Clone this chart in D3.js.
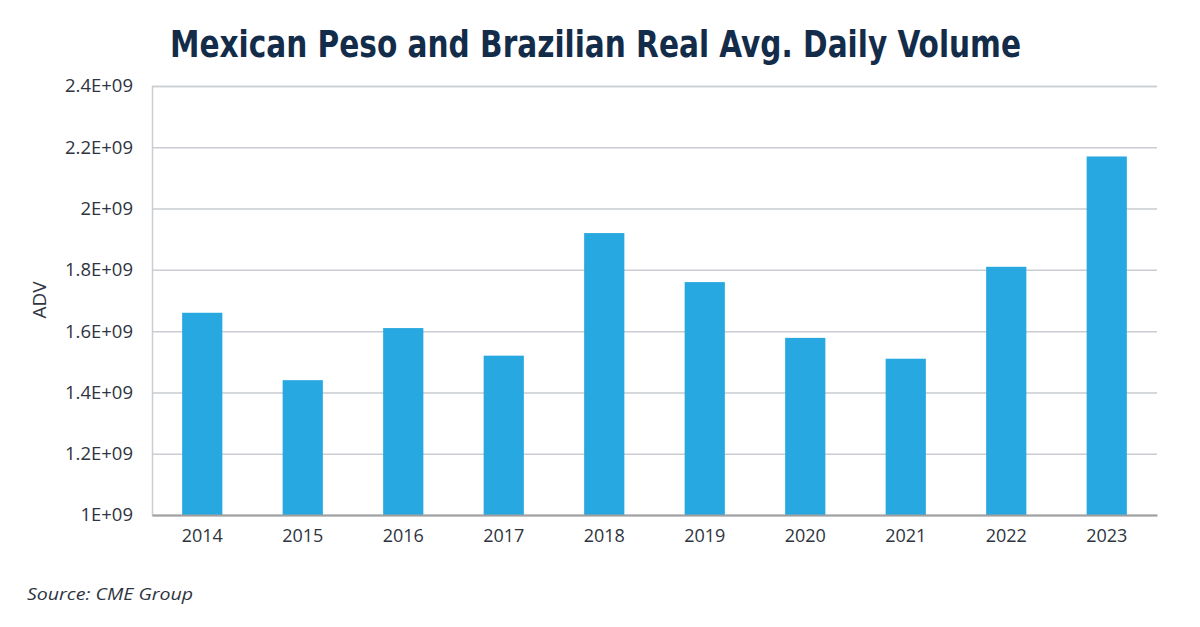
<!DOCTYPE html>
<html><head><meta charset="utf-8">
<script src="https://cdn.jsdelivr.net/npm/d3@7"></script>
<style>body{margin:0;background:#fff}svg{display:block}</style>
</head><body><svg id="c" width="1200" height="627"></svg>
<script>
const categories = ["2014","2015","2016","2017","2018","2019","2020","2021","2022","2023"];
const values = [1.66e9,1.44e9,1.61e9,1.52e9,1.92e9,1.76e9,1.578e9,1.51e9,1.81e9,2.17e9];
const yTicks = [1e9,1.2e9,1.4e9,1.6e9,1.8e9,2e9,2.2e9,2.4e9];
const yTickLabels = ["1E+09","1.2E+09","1.4E+09","1.6E+09","1.8E+09","2E+09","2.2E+09","2.4E+09"];

const svg = d3.select("#c");
const L=152,R=1157,T=86,B=515;
const x = d3.scaleBand().domain(categories).range([L,R]).paddingInner(0.6).paddingOuter(0.3);
const y = d3.scaleLinear().domain([1e9,2.4e9]).range([B,T]);
const txt = "#2e3440";

svg.append("text").attr("x",170).attr("y",57).attr("textLength",851).attr("lengthAdjust","spacingAndGlyphs")
  .attr("font-family","DejaVu Sans Condensed, DejaVu Sans").attr("font-weight","bold").attr("font-size",38)
  .attr("fill","#132c4a").text("Mexican Peso and Brazilian Real Avg. Daily Volume");

const ya = svg.append("g").attr("transform",`translate(${L},0)`)
  .call(d3.axisLeft(y).tickValues(yTicks).tickSize(-(R-L)).tickPadding(19).tickFormat((d,i)=>yTickLabels[i]));
ya.select(".domain").attr("stroke","#c9cdd1").attr("stroke-width",1.5);
ya.selectAll(".tick line").attr("stroke","#c9cdd1").attr("stroke-width",1.5);
ya.selectAll(".tick text").attr("font-family","Open Sans").attr("font-size",18.5).attr("fill",txt);

svg.append("g").selectAll("rect").data(values).join("rect")
  .attr("x",(d,i)=>x(categories[i])).attr("width",x.bandwidth())
  .attr("y",d=>y(d)).attr("height",d=>B-y(d)).attr("fill","#27a8e0");

const xa = svg.append("g").attr("transform",`translate(0,${B})`)
  .call(d3.axisBottom(x).tickSize(0).tickPadding(14));
xa.select(".domain").attr("stroke","#a0a0a0").attr("stroke-width",2);
xa.selectAll(".tick text").attr("font-family","Open Sans").attr("font-size",18).attr("fill",txt);

svg.append("text").attr("transform","translate(46,300) rotate(-90)").attr("text-anchor","middle")
  .attr("font-family","Open Sans").attr("font-size",19).attr("fill",txt).text("ADV");

svg.append("text").attr("x",27).attr("y",600).attr("textLength",166).attr("lengthAdjust","spacingAndGlyphs")
  .attr("font-family","Open Sans").attr("font-style","italic")
  .attr("font-size",17).attr("fill",txt).text("Source: CME Group");
</script></body></html>
